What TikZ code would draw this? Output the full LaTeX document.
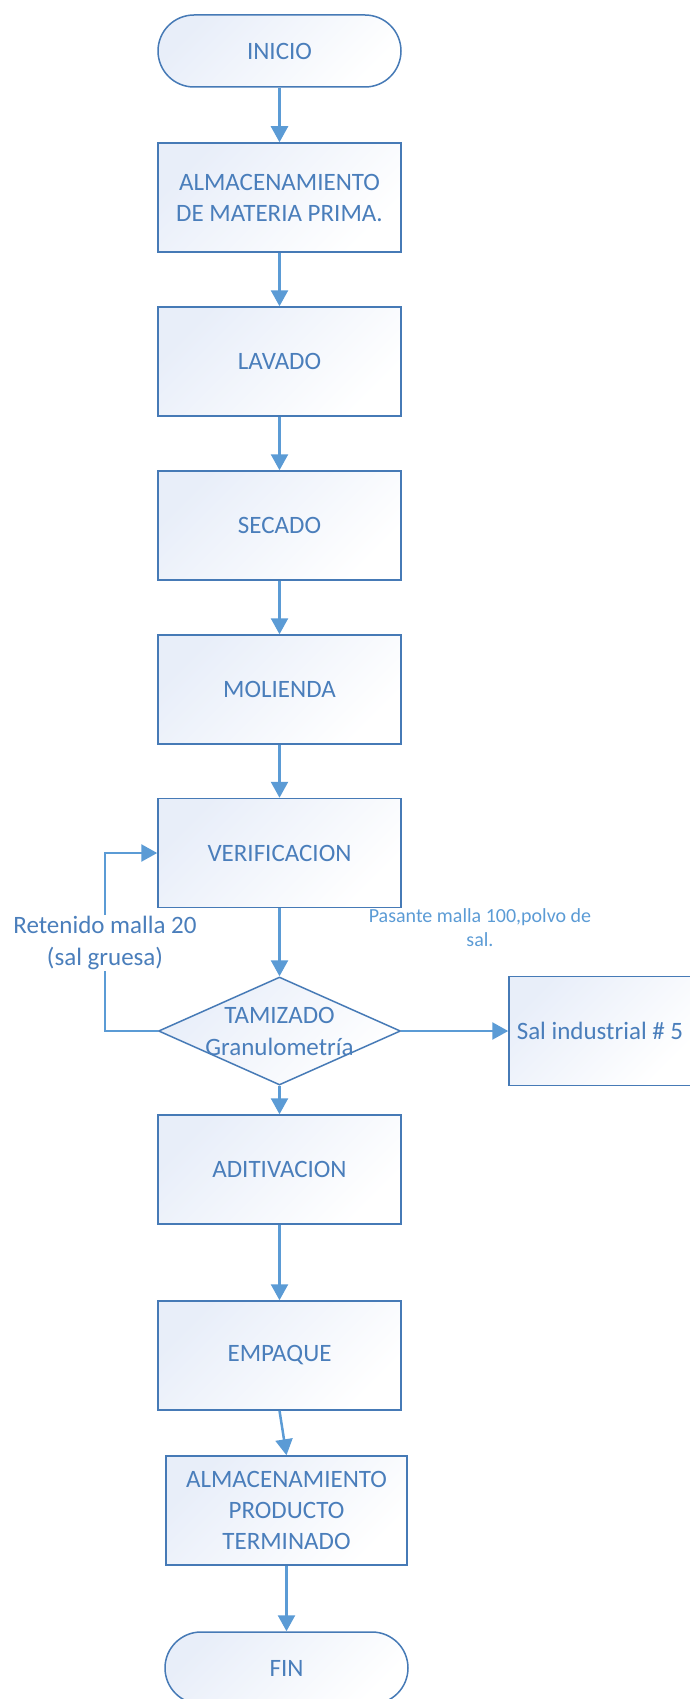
\documentclass[tikz,border=0pt]{standalone}
\usepackage{fontspec}
\setmainfont{Carlito}
\usetikzlibrary{arrows.meta,shapes.geometric}
\definecolor{lineblue}{RGB}{91,155,213}
\definecolor{edgeblue}{RGB}{70,122,182}
\definecolor{txtblue}{RGB}{74,126,187}
\definecolor{boxfill}{RGB}{232,238,249}
\tikzset{
    procbox/.style={rectangle, draw=edgeblue, line width=1.5pt, top color=boxfill, bottom color=white, shading angle=45,
        minimum width=243pt, minimum height=109pt, inner sep=0pt, text=txtblue, align=center, font=\fontsize{25}{31}\selectfont},
    termbox/.style={procbox, rounded corners=36pt, minimum height=72pt},
    decbox/.style={procbox, diamond, minimum width=242pt, minimum height=108pt},
    flow/.style={draw=lineblue, line width=2.5pt, -{Triangle[length=16pt,width=17pt]}},
    note/.style={text=txtblue, align=center, font=\fontsize{25}{32}\selectfont, fill=white, inner sep=1pt}
}
\begin{document}
\begin{tikzpicture}[x=1pt,y=-1pt]
    \useasboundingbox (0,0) rectangle (689,1699);

    \node[termbox] (inicio) at (279.5,51) {INICIO};
    \node[procbox] (almmp) at (279.5,197.5) {ALMACENAMIENTO\\DE MATERIA PRIMA.};
    \node[procbox] (lavado) at (279.5,361.5) {LAVADO};
    \node[procbox] (secado) at (279.5,525.5) {SECADO};
    \node[procbox] (molienda) at (279.5,689.5) {MOLIENDA};
    \node[procbox] (verif) at (279.5,853) {VERIFICACION};
    \node[decbox, label={[text=txtblue, align=center, font=\fontsize{25}{32}\selectfont]center:TAMIZADO\\Granulometría}] (tamiz) at (279.5,1031) {};
    \node[procbox, minimum width=182pt] (salind) at (600,1031) {Sal industrial \# 5};
    \node[procbox] (aditiv) at (279.5,1169.5) {ADITIVACION};
    \node[procbox] (empaque) at (279.5,1355.5) {EMPAQUE};
    \node[procbox, minimum width=241pt] (almpt) at (286.5,1510.5) {ALMACENAMIENTO\\PRODUCTO\\TERMINADO};
    \node[termbox] (fin) at (286.5,1668) {FIN};

    \node[note] (retenido) at (105,943) {Retenido malla 20\\(sal gruesa)};
    \node[note, fill=none, text=lineblue, font=\fontsize{20}{24}\selectfont] (pasante) at (480,928) {Pasante malla 100,polvo de\\sal.};

    \draw[flow] (inicio) -- (almmp);
    \draw[flow] (almmp) -- (lavado);
    \draw[flow] (lavado) -- (secado);
    \draw[flow] (secado) -- (molienda);
    \draw[flow] (molienda) -- (verif);
    \draw[flow] (verif) -- (tamiz);
    \draw[flow] (tamiz.east) -- (salind.west);
    \draw[flow] (tamiz.south) -- (aditiv.north);
    \draw[flow] (aditiv) -- (empaque);
    \draw[flow] (empaque.south) -- (almpt.north);
    \draw[flow] (almpt) -- (fin);

    \draw[draw=lineblue, line width=2.5pt] (tamiz.west) -| (retenido.south);
    \draw[flow] (retenido.north) |- (verif.west);
\end{tikzpicture}
\end{document}
